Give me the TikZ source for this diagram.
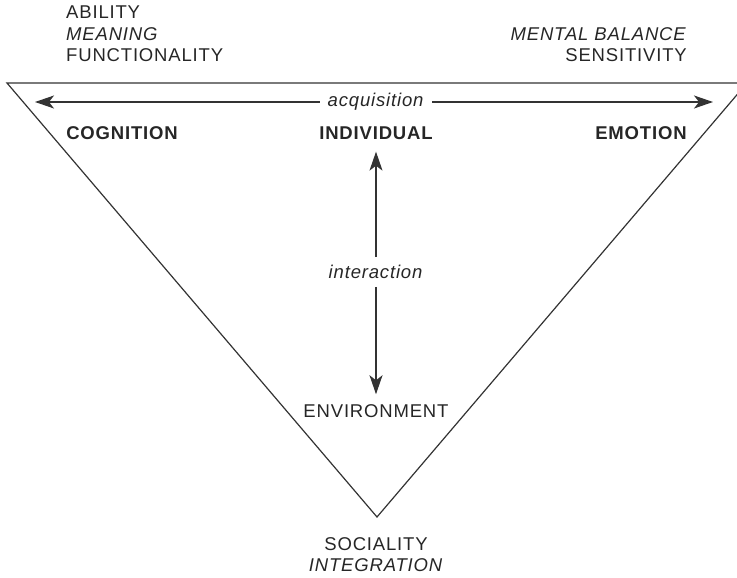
\documentclass[tikz,border=0pt]{standalone}
\usepackage{fontspec}
\setmainfont[LetterSpace=4.5]{Liberation Sans}
\usetikzlibrary{arrows.meta}
\usetikzlibrary{positioning}

\begin{document}
\begin{tikzpicture}[x=1pt,y=1pt,
        every node/.style={text=black!85,font=\fontsize{18.5}{21.5}\selectfont,inner sep=0pt},
        corner/.style={font=\fontsize{18.5}{21.5}\selectfont\bfseries},
        axis/.style={draw=black!80,line width=1.2pt,-{Stealth[length=19pt,width=13pt,inset=5pt]}}]
        % Frame
        \useasboundingbox (0,0) rectangle (737,-578);
        \clip (0,0) rectangle (737,-578);
        % Triangle
        \draw [black!80,line width=1.2pt] (7,-83) -- (747,-83) -- (377,-517) -- cycle;
        % Corners
        \node (cognition) at (122,-133) [corner] {COGNITION};
        \node (individual) at (376,-133) [corner] {INDIVIDUAL};
        \node (emotion) at (641,-133) [corner] {EMOTION};
        \node (environment) at (376,-411) {ENVIRONMENT};
        % Outer texts
        \node (ability) at (66,-6) [anchor=north west,align=left]
            {ABILITY\\\textit{MEANING}\\FUNCTIONALITY};
        \node (balance) at (687,-27) [anchor=north east,align=right]
            {\textit{MENTAL BALANCE}\\SENSITIVITY};
        \node (sociality) at (376,-537) [anchor=north,align=center]
            {SOCIALITY\\\textit{INTEGRATION}};
        % Arrows
        \node (acquisition) at (376,-102) [fill=white,inner xsep=8pt,inner ysep=2pt] {\textit{acquisition}};
        \coordinate (left end) at (35,-102);
        \coordinate (right end) at (713,-102);
        \draw [axis] (acquisition.west) -- (left end);
        \draw [axis] (acquisition.east) -- (right end);
        \node (interaction) at (376,-272) [inner xsep=2pt,inner ysep=8pt] {\textit{interaction}};
        \draw [axis,shorten >=12pt] (interaction.north) -- (individual.south);
        \draw [axis,shorten >=10pt] (interaction.south) -- (environment.north);
    \end{tikzpicture}
\end{document}
